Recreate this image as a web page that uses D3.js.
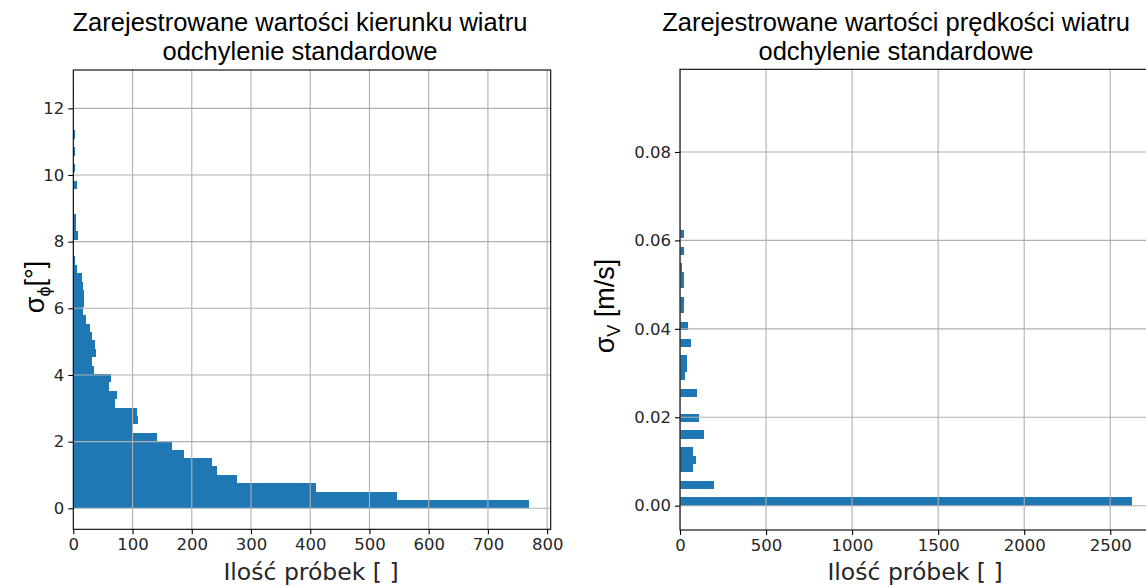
<!DOCTYPE html>
<html>
<head>
<meta charset="utf-8">
<script src="https://cdn.jsdelivr.net/npm/d3@7"></script>
<style>
  body { margin: 0; background: #fff; }
  svg { display: block; }
</style>
</head>
<body>
<svg id="chart" width="1146" height="587"></svg>
<script>
// histogram of wind direction std dev (counts per bin, 50 bins from 0 to 12.6 deg)
var dirBinStart = 0;
var dirBinWidth = 0.252;
var dirCounts = [769, 547, 409, 277, 243, 235, 187, 167, 141, 99,
                 109, 107, 71, 73, 61, 63, 35, 32, 39, 37,
                 31, 29, 22, 17, 18, 18, 16, 14, 7, 3,
                 1, 1, 8, 5, 4, 2, 1, 2, 7, 0,
                 3, 0, 3, 0, 3, 0, 0, 0, 0, 1];
var dirXTicks = [0, 100, 200, 300, 400, 500, 600, 700, 800];
var dirYTicks = [0, 2, 4, 6, 8, 10, 12];

// histogram of wind speed std dev (50 bins from 0 to 0.0945 m/s)
var spdBinStart = 0;
var spdBinWidth = 0.00189;
var spdCounts = [2628, 0, 199, 0, 74, 93, 74, 0, 137, 0,
                 111, 0, 0, 101, 0, 29, 39, 39, 0, 64,
                 0, 48, 0, 22, 22, 0, 22, 22, 12, 0,
                 22, 0, 22, 0, 0, 0, 0, 0, 0, 0,
                 0, 0, 0, 0, 0, 0, 0, 0, 0, 1];
var spdXTicks = [0, 500, 1000, 1500, 2000, 2500];
var spdYTicks = [0, 0.02, 0.04, 0.06, 0.08];

var titleLines1 = ["Zarejestrowane wartości kierunku wiatru", "odchylenie standardowe"];
var titleLines2 = ["Zarejestrowane wartości prędkości wiatru", "odchylenie standardowe"];
var xLabel = "Ilość próbek [ ]";

var svg = d3.select("#chart");
var barColor = "#1f77b4";
var gridColor = "#b0b0b0";

function toBins(start, width, counts) {
    return counts.map(function (c, i) {
        return { y0: start + i * width, y1: start + (i + 1) * width, n: c };
    });
}

/**
 * Rysuje jeden panel histogramu (poziome slupki)
 */
function drawPanel(p) {
    var x = d3.scaleLinear().domain(p.xDomain).range([p.left, p.right]);
    var y = d3.scaleLinear().domain(p.yDomain).range([p.bottom, p.top]);
    var g = svg.append("g");

    // clip to plot area
    var clipId = "clip" + p.id;
    svg.append("clipPath").attr("id", clipId)
        .append("rect")
        .attr("x", p.left).attr("y", p.top)
        .attr("width", p.right - p.left).attr("height", p.bottom - p.top);

    var bins = toBins(p.binStart, p.binWidth, p.counts).filter(function (d) { return d.n > 0; });
    g.append("g").attr("clip-path", "url(#" + clipId + ")")
        .attr("shape-rendering", "crispEdges")
        .selectAll("rect").data(bins).enter().append("rect")
        .attr("x", x(0))
        .attr("y", function (d) { return y(d.y1); })
        .attr("width", function (d) { return x(d.n) - x(0); })
        .attr("height", function (d) { return y(d.y0) - y(d.y1); })
        .attr("fill", barColor);

    // grid (matplotlib draws it over the patches)
    var grid = g.append("g").attr("clip-path", "url(#" + clipId + ")");
    grid.selectAll("line.gx").data(p.xTicks).enter().append("line")
        .attr("x1", function (d) { return x(d); }).attr("x2", function (d) { return x(d); })
        .attr("y1", p.top).attr("y2", p.bottom)
        .attr("stroke", gridColor).attr("stroke-width", 1.1);
    grid.selectAll("line.gy").data(p.yTicks).enter().append("line")
        .attr("y1", function (d) { return y(d); }).attr("y2", function (d) { return y(d); })
        .attr("x1", p.left).attr("x2", p.right)
        .attr("stroke", gridColor).attr("stroke-width", 1.1);

    // axes
    var xAxis = d3.axisBottom(x).tickValues(p.xTicks).tickSize(5).tickPadding(4).tickFormat(d3.format("d"));
    var yAxis = d3.axisLeft(y).tickValues(p.yTicks).tickSize(5).tickPadding(4).tickFormat(p.yFormat);

    var gx = g.append("g").attr("transform", "translate(0," + p.bottom + ")").call(xAxis);
    var gy = g.append("g").attr("transform", "translate(" + p.left + ",0)").call(yAxis);
    [gx, gy].forEach(function (a) {
        a.select(".domain").remove();
        a.selectAll(".tick line").attr("stroke", "#000").attr("stroke-width", 1.1);
        a.selectAll(".tick text")
            .attr("fill", "#262626")
            .style("font-family", "'DejaVu Sans', sans-serif")
            .style("font-size", "16.5px");
    });

    // frame
    g.append("rect")
        .attr("x", p.left).attr("y", p.top)
        .attr("width", p.right - p.left).attr("height", p.bottom - p.top)
        .attr("fill", "none").attr("stroke", "#000").attr("stroke-width", 1.1);

    // title
    var t = g.append("text")
        .attr("text-anchor", "middle")
        .style("font-family", "'Liberation Sans', Arial, sans-serif")
        .style("font-size", "25.5px")
        .attr("fill", "#000");
    p.title.forEach(function (line, i) {
        t.append("tspan").attr("x", p.titleX).attr("y", 31 + i * 29).text(line);
    });

    // x label
    g.append("text")
        .attr("x", p.xLabelX).attr("y", 580)
        .attr("text-anchor", "middle")
        .style("font-family", "'DejaVu Sans', sans-serif")
        .style("font-size", "23.5px")
        .attr("fill", "#262626")
        .text(xLabel);

    // y label with subscript
    var yl = g.append("text")
        .attr("transform", "translate(" + p.yLabelX + "," + p.yLabelY + ") rotate(-90)")
        .attr("text-anchor", "middle")
        .style("font-family", "'Liberation Sans', Arial, sans-serif")
        .style("font-size", "27px")
        .attr("fill", "#000");
    yl.append("tspan").text("σ");
    yl.append("tspan").attr("dy", 6).style("font-size", "18px").text(p.ySub);
    yl.append("tspan").attr("dy", -6).text(p.yUnit);
}

drawPanel({
    id: 1,
    left: 73.3, right: 550.7, top: 70, bottom: 529.3,
    xDomain: [0, 806], yDomain: [-0.63, 13.15],
    binStart: dirBinStart, binWidth: dirBinWidth, counts: dirCounts,
    xTicks: dirXTicks, yTicks: dirYTicks, yFormat: d3.format("d"),
    title: titleLines1, titleX: 300, xLabelX: 311,
    ySub: "ϕ", yUnit: "[°]", yLabelX: 44, yLabelY: 287
});

drawPanel({
    id: 2,
    left: 680, right: 1155, top: 69.3, bottom: 530,
    xDomain: [0, 2760], yDomain: [-0.0055, 0.0987],
    binStart: spdBinStart, binWidth: spdBinWidth, counts: spdCounts,
    xTicks: spdXTicks, yTicks: spdYTicks, yFormat: d3.format(".2f"),
    title: titleLines2, titleX: 896, xLabelX: 915,
    ySub: "V", yUnit: " [m/s]", yLabelX: 614, yLabelY: 306
});
</script>
</body>
</html>
